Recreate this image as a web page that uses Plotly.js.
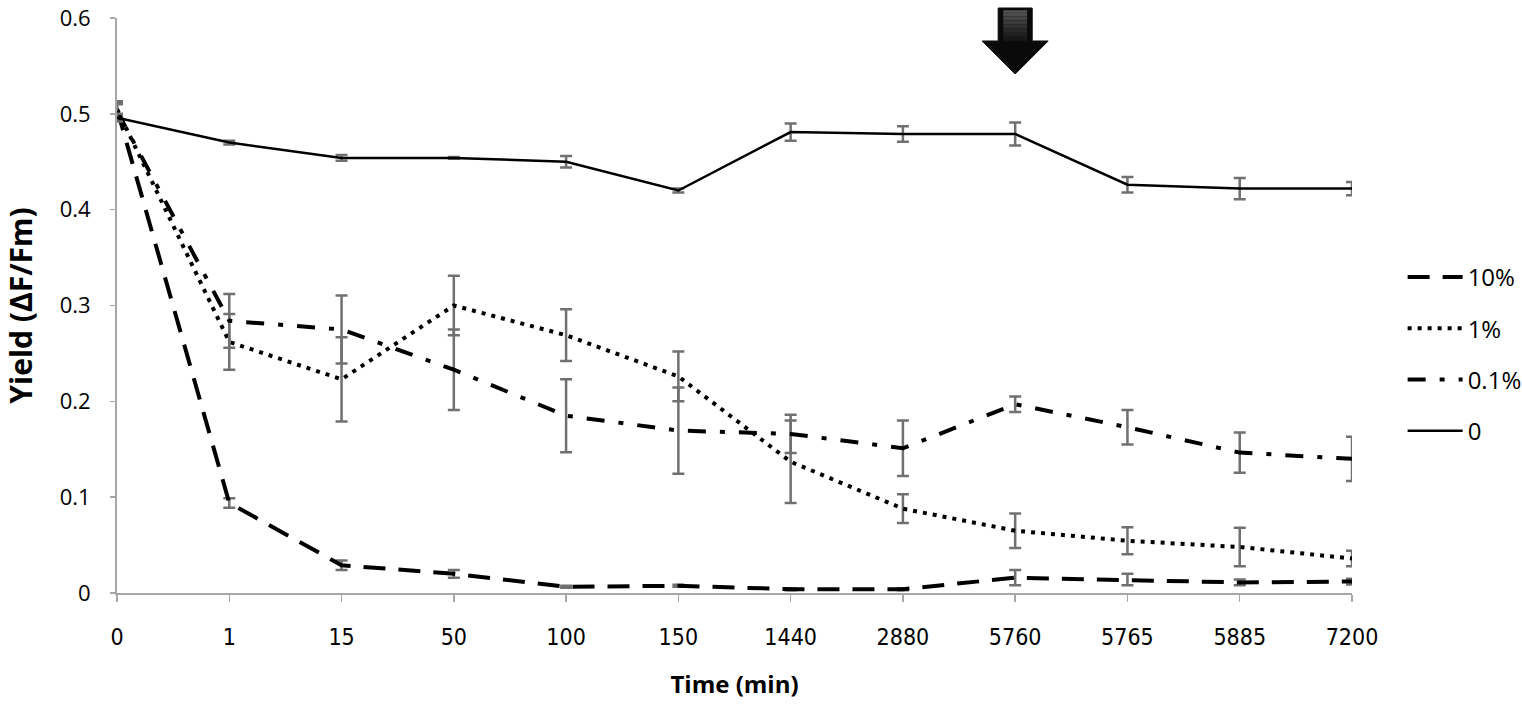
<!DOCTYPE html>
<html>
<head>
<meta charset="utf-8">
<script src="https://cdn.plot.ly/plotly-3.0.1.min.js"></script>
<style>html,body{margin:0;padding:0;background:#fff;}#chart{width:1522px;height:706px;}</style>
</head>
<body>
<div id="chart"></div>
<script>
// Categories (time, min)
const timeLabels = ["0","1","15","50","100","150","1440","2880","5760","5765","5885","7200"];
const yTickVals = [0, 0.1, 0.2, 0.3, 0.4, 0.5, 0.6];
const yTickText = ["0", "0.1", "0.2", "0.3", "0.4", "0.5", "0.6"];

// Yield values per treatment
const y10 = [0.505, 0.094, 0.029, 0.020, 0.0065, 0.0075, 0.004, 0.004, 0.016, 0.014, 0.011, 0.012];
const e10 = [0.008, 0.005, 0.005, 0.004, 0.001, 0.001, 0.001, 0.001, 0.008, 0.006, 0.003, 0.003];

const y1 = [0.505, 0.262, 0.223, 0.300, 0.269, 0.226, 0.137, 0.088, 0.065, 0.0545, 0.048, 0.036];
const e1 = [0.006, 0.029, 0.044, 0.031, 0.027, 0.026, 0.043, 0.015, 0.018, 0.014, 0.020, 0.008];

const y01 = [0.503, 0.284, 0.275, 0.233, 0.185, 0.1695, 0.166, 0.151, 0.197, 0.173, 0.1465, 0.140];
const e01 = [0.007, 0.028, 0.0355, 0.042, 0.038, 0.045, 0.020, 0.029, 0.008, 0.018, 0.021, 0.023];

const y0 = [0.496, 0.470, 0.454, 0.454, 0.450, 0.420, 0.481, 0.479, 0.479, 0.426, 0.422, 0.422];
const e0 = [0.004, 0.002, 0.003, 0.001, 0.006, 0.002, 0.009, 0.008, 0.012, 0.008, 0.011, 0.007];

const seriesNames = ["10%", "1%", "0.1%", "0"];

const errStyle = (arr) => ({type:'data', array: arr, visible: true, color:'#707070', thickness:2.5, width:6});

const traces = [
  {x: timeLabels, y: y10, name: seriesNames[0], legendgroup:'a', mode:'lines', cliponaxis:false,
   line:{color:'#000', width:4, dash:'22px,13px'}, error_y: errStyle(e10)},
  {x: timeLabels, y: y1, name: seriesNames[1], legendgroup:'b', mode:'lines', cliponaxis:false,
   line:{color:'#000', width:4, dash:'4px,6px'}, error_y: errStyle(e1)},
  {x: timeLabels, y: y01, name: seriesNames[2], legendgroup:'c', mode:'lines', cliponaxis:false,
   line:{color:'#000', width:4, dash:'18px,14px,5px,14px'}, error_y: errStyle(e01)},
  {x: timeLabels, y: y0, name: seriesNames[3], legendgroup:'d', mode:'lines', cliponaxis:false,
   line:{color:'#000', width:2.5}, error_y: errStyle(e0)}
];

const mTop = 18;
const plotH = 706 - mTop - 113;
const pxToPaper = (py) => (593 - py) / plotH;

// Arrow decoration (paper coords)
const cx = 8/11, sw = 0.01377, hw = 0.02672;
const yTop = pxToPaper(8), yNeck = pxToPaper(41), yTip = pxToPaper(74);
const shapes = [];
shapes.push({type:'path', xref:'paper', yref:'paper', layer:'above',
  path:`M ${cx-sw},${yTop} L ${cx+sw},${yTop} L ${cx+sw},${yNeck} L ${cx+hw},${yNeck} L ${cx},${yTip} L ${cx-hw},${yNeck} L ${cx-sw},${yNeck} Z`,
  fillcolor:'#0a0a0a', line:{color:'#0a0a0a', width:1}});
const bands = ['#555','#4c4c4c','#434343','#3a3a3a','#313131','#282828','#1f1f1f','#161616'];
const bh = (yTop - yNeck)/bands.length;
bands.forEach((c,i)=>{
  shapes.push({type:'rect', xref:'paper', yref:'paper', layer:'above',
    x0: cx-sw*0.7, x1: cx+sw*0.7, y0: yTop-(i+1)*bh, y1: yTop-i*bh - (i===0?0.004:0),
    fillcolor:c, line:{width:0}});
});

const axisColor = '#a6a6a6';
const layout = {
  width:1522, height:706, autosize:false,
  margin:{l:117, r:170, t:mTop, b:113, pad:0, autoexpand:false},
  paper_bgcolor:'#fff', plot_bgcolor:'#fff',
  font:{family:'"Open Sans", Lato, sans-serif', color:'#000'},
  showlegend:true,
  legend:{x:1.041, xanchor:'left', y:pxToPaper(255), yanchor:'top', tracegroupgap:17,
    font:{size:24, color:'#000'}, itemwidth:55, bgcolor:'rgba(0,0,0,0)'},
  xaxis:{type:'category', range:[0,11], showgrid:false, zeroline:false,
    showline:true, linecolor:axisColor, linewidth:2,
    ticks:'outside', ticklen:7, tickcolor:axisColor, tickwidth:1.5,
    tickfont:{size:23, family:'"Liberation Sans Narrow", "DejaVu Sans Condensed", Lato, sans-serif'}, ticklabelstandoff:15,
    title:{text:'<b>Time (min)</b>', font:{size:24}, standoff:28}},
  yaxis:{range:[0,0.6], tickvals:yTickVals, ticktext:yTickText, showgrid:false, zeroline:false,
    showline:true, linecolor:axisColor, linewidth:2,
    ticks:'outside', ticklen:5, tickcolor:axisColor, tickwidth:1.5,
    tickfont:{size:22}, ticklabelstandoff:15, ticklabeloverflow:'allow',
    title:{text:'<b>Yield (ΔF/Fm)</b>', font:{size:30}, standoff:22}},
  shapes: shapes
};

Plotly.newPlot('chart', traces, layout, {displayModeBar:false, staticPlot:true});
</script>
</body>
</html>
